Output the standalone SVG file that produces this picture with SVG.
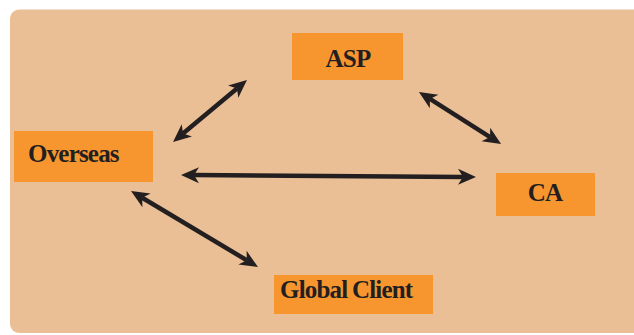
<svg xmlns="http://www.w3.org/2000/svg" width="634" height="335" viewBox="0 0 634 335">
<style>
.box{fill:#F7962F}
.lbl{font-family:"Liberation Serif","Times New Roman",serif;font-weight:bold;font-size:25px;fill:#231F20;letter-spacing:-0.8px}
.conn{stroke:#231F20;stroke-width:4.5;fill:none;marker-start:url(#ah);marker-end:url(#ah)}
</style>
<defs>
<marker id="ah" markerUnits="userSpaceOnUse" viewBox="-1 -9 20 18" markerWidth="20" markerHeight="18" refX="5" refY="0" orient="auto-start-reverse">
<path d="M0,-8 L18,0 L0,8 L5,0 Z" fill="#231F20"/>
</marker>
</defs>
<rect x="10" y="9.5" width="660" height="323.5" rx="9" fill="#EBBF96"/>
<g id="connectors">
<line class="conn" x1="183.0" y1="133.6" x2="237.0" y2="88.4"/>
<line class="conn" x1="429.9" y1="98.9" x2="490.1" y2="137.1"/>
<line class="conn" x1="194" y1="175.1" x2="463" y2="176.9"/>
<line class="conn" x1="142.2" y1="197.7" x2="246.8" y2="260.3"/>
</g>
<g id="asp">
<rect class="box" x="292" y="33" width="111" height="47"/>
<text class="lbl" x="348" y="67" text-anchor="middle">ASP</text>
</g>
<g id="overseas">
<rect class="box" x="14" y="131" width="139" height="51"/>
<text class="lbl" x="28" y="162">Overseas</text>
</g>
<g id="ca">
<rect class="box" x="496" y="173" width="99" height="43"/>
<text class="lbl" x="545" y="201" text-anchor="middle">CA</text>
</g>
<g id="global-client">
<rect class="box" x="274" y="275" width="159" height="39"/>
<text class="lbl" x="280" y="298" word-spacing="-1">Global Client</text>
</g>
</svg>
